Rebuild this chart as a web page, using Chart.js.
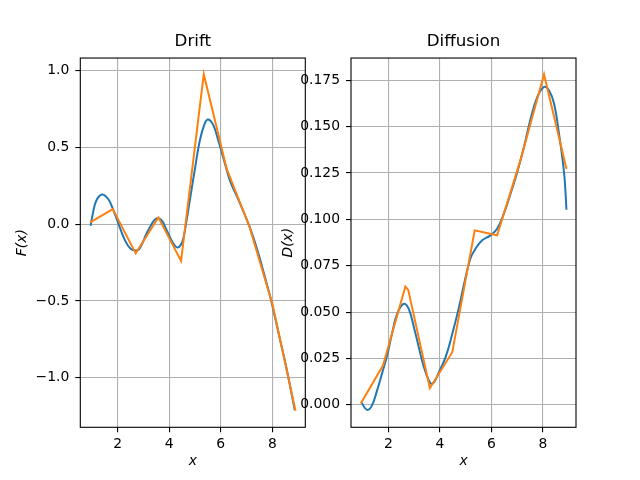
<!DOCTYPE html>
<html>
<head>
<meta charset="utf-8">
<script src="https://cdn.jsdelivr.net/npm/chart.js@4/dist/chart.umd.min.js"></script>
<style>
  html, body { margin: 0; padding: 0; background: #fff; }
  #wrap { position: relative; width: 640px; height: 480px; overflow: hidden; }
  canvas { position: absolute; top: 0; }
  #driftCanvas { left: 0; }
  #diffCanvas { left: 270px; }
</style>
</head>
<body>
<div id="wrap">
  <canvas id="driftCanvas" width="320" height="480"></canvas>
  <canvas id="diffCanvas" width="370" height="480"></canvas>
</div>
<script>
// Drift: smooth fit (blue) and binned estimate (orange)
const driftFitX = [0.95, 1.05, 1.15, 1.28, 1.42, 1.56, 1.70, 1.98, 2.28, 2.50, 2.70, 2.85, 3.12, 3.30, 3.45,
                   3.60, 3.75, 3.90, 4.16, 4.31, 4.45, 4.55, 4.65, 4.80, 4.99, 5.19, 5.38, 5.51, 5.71,
                   5.90, 6.09, 6.35, 6.67, 7.12, 7.44, 7.77, 7.98, 8.28, 8.54, 8.87];
const driftFit = [-0.01, 0.08, 0.145, 0.182, 0.193, 0.178, 0.145, 0.026, -0.104, -0.16, -0.172, -0.16, -0.061, -0.005, 0.031,
                  0.037, 0.015, -0.039, -0.126, -0.152, -0.135, -0.09, 0.0, 0.156, 0.352, 0.547, 0.656, 0.682, 0.645,
                  0.547, 0.438, 0.287, 0.165, -0.018, -0.18, -0.38, -0.515, -0.738, -0.93, -1.21];
const driftEstX = [0.93, 1.81, 2.70, 3.58, 4.46, 5.34, 6.23, 7.12, 8.01, 8.90];
const driftEst = [0.012, 0.098, -0.19, 0.044, -0.24, 0.977, 0.36, -0.02, -0.525, -1.215];

// Diffusion
const diffFitX = [0.95, 1.17, 1.36, 1.56, 1.75, 1.95, 2.14, 2.34, 2.60, 2.79, 2.99, 3.18, 3.38, 3.56,
                  3.67, 3.80, 3.96, 4.22, 4.48, 4.74, 4.95, 5.18, 5.38, 5.64, 5.96, 6.22, 6.48, 6.74,
                  7.00, 7.26, 7.52, 7.78, 8.04, 8.23, 8.43, 8.62, 8.82, 8.91];
const diffFit = [0.0014, -0.0027, -0.0004, 0.0077, 0.0167, 0.0266, 0.0383, 0.0491, 0.0545, 0.0518, 0.0419, 0.0311, 0.0203, 0.0135,
                 0.0113, 0.0128, 0.0176, 0.0257, 0.0383, 0.0527, 0.066, 0.0788, 0.0842, 0.0887, 0.0914, 0.095, 0.1031, 0.1139,
                 0.1255, 0.139, 0.1543, 0.166, 0.1714, 0.1696, 0.1624, 0.1462, 0.1247, 0.1052];
const diffEstX = [0.93, 1.79, 2.66, 2.77, 3.61, 4.48, 5.35, 6.22, 7.12, 8.04, 8.91];
const diffEst = [0.0007, 0.0212, 0.0638, 0.062, 0.009, 0.0284, 0.0941, 0.0914, 0.1317, 0.1783, 0.1272];

const xTicks = [2, 4, 6, 8];
const driftTicks = [-1.0, -0.5, 0.0, 0.5, 1.0];
const diffTicks = [0, 0.025, 0.05, 0.075, 0.1, 0.125, 0.15, 0.175];

const BLUE = '#1f77b4';
const ORANGE = '#ff7f0e';
const FONT = 'DejaVu Sans';

function pts(xs, ys) {
    return xs.map((x, i) => ({ x: x, y: ys[i] }));
}

function fmtMinus(s) {
    return s.replace('-', '\u2212');
}

// matplotlib style frame around the plot area
const framePlugin = {
    id: 'frame',
    afterDraw(chart) {
        const a = chart.chartArea;
        const ctx = chart.ctx;
        ctx.save();
        ctx.strokeStyle = '#000';
        ctx.lineWidth = 1.1;
        ctx.strokeRect(a.left, a.top, a.right - a.left, a.bottom - a.top);
        ctx.restore();
    }
};

function makeChart(id, opts) {
    const ctx = document.getElementById(id).getContext('2d');
    return new Chart(ctx, {
        type: 'line',
        data: {
            datasets: [{
                data: pts(opts.fitX, opts.fit),
                borderColor: BLUE,
                borderWidth: 2,
                pointRadius: 0,
                tension: 0.4,
                order: 2
            }, {
                data: pts(opts.estX, opts.est),
                borderColor: ORANGE,
                borderWidth: 2,
                pointRadius: 0,
                tension: 0,
                order: 1
            }]
        },
        options: {
            responsive: false,
            animation: false,
            layout: { padding: { left: 0, right: opts.padRight, top: 0, bottom: 0 } },
            plugins: {
                legend: { display: false },
                tooltip: { enabled: false },
                title: {
                    display: true,
                    fullSize: false,
                    text: opts.title,
                    color: '#000',
                    font: { family: FONT, size: 16.7, weight: 'normal', lineHeight: 1.2 },
                    padding: { top: 32, bottom: 6 }
                }
            },
            scales: {
                x: {
                    type: 'linear',
                    min: 0.55,
                    max: 9.28,
                    afterBuildTicks: s => { s.ticks = xTicks.map(v => ({ value: v })); },
                    afterFit: s => { s.height = 52.7; },
                    ticks: {
                        color: '#000',
                        padding: 4,
                        maxRotation: 0,
                        font: { family: FONT, size: 13.9 },
                        callback: v => String(v)
                    },
                    grid: { color: '#b0b0b0', lineWidth: 1.1, tickColor: '#000', tickLength: 5 },
                    border: { display: false },
                    title: {
                        display: true,
                        text: 'x',
                        color: '#000',
                        font: { family: FONT, size: 13.9, style: 'italic' },
                        padding: { top: 0, bottom: 10 }
                    }
                },
                y: {
                    type: 'linear',
                    min: opts.yMin,
                    max: opts.yMax,
                    afterBuildTicks: s => { s.ticks = opts.yTicks.map(v => ({ value: v })); },
                    afterFit: s => { s.width = opts.yWidth; },
                    ticks: {
                        color: '#000',
                        padding: 6,
                        font: { family: FONT, size: 13.9 },
                        callback: v => fmtMinus(v.toFixed(opts.digits))
                    },
                    grid: { color: '#b0b0b0', lineWidth: 1.1, tickColor: '#000', tickLength: 5 },
                    border: { display: false },
                    title: {
                        display: true,
                        text: opts.yLabel,
                        color: '#000',
                        font: { family: FONT, size: 13.9, style: 'italic' },
                        padding: { top: opts.yTitlePad, bottom: 0 }
                    }
                }
            }
        },
        plugins: [framePlugin]
    });
}

makeChart('driftCanvas', {
    title: 'Drift',
    fitX: driftFitX, fit: driftFit,
    estX: driftEstX, est: driftEst,
    yMin: -1.323, yMax: 1.082,
    yTicks: driftTicks, digits: 1,
    yLabel: 'F(x)', yWidth: 80.3, yTitlePad: 14,
    padRight: 14.7
});

makeChart('diffCanvas', {
    title: 'Diffusion',
    fitX: diffFitX, fit: diffFit,
    estX: diffEstX, est: diffEst,
    yMin: -0.0121, yMax: 0.1870,
    yTicks: diffTicks, digits: 3,
    yLabel: 'D(x)', yWidth: 81, yTitlePad: 10,
    padRight: 64
});
</script>
</body>
</html>
